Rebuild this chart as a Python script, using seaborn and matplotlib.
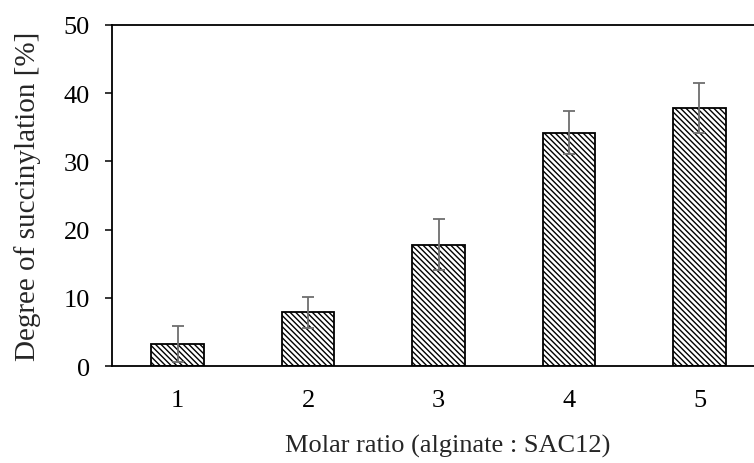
import matplotlib
matplotlib.use("Agg")
import matplotlib.pyplot as plt
import seaborn as sns
import pandas as pd
import numpy as np

categories = ["1", "2", "3", "4", "5"]
values = [3.3, 7.9, 17.8, 34.2, 37.8]
errors = [2.6, 2.3, 3.7, 3.1, 3.6]

sns.set_theme(style="ticks")
plt.rcParams['font.family'] = ['Liberation Serif', 'DejaVu Serif']
plt.rcParams['hatch.linewidth'] = 1.0
plt.rcParams['hatch.color'] = 'black'

df = pd.DataFrame({"ratio": categories, "dos": values})

fig = plt.figure(figsize=(7.54, 4.64), dpi=100)
ax = fig.add_axes([112.3 / 754, 1 - 367.3 / 464, (764.7 - 112.3) / 754, (367.3 - 25.7) / 464])

sns.barplot(data=df, x="ratio", y="dos", ax=ax, width=0.4, color="white",
            edgecolor="black", linewidth=1.3, errorbar=None, zorder=2)
for p in ax.patches:
    p.set_hatch('\\\\\\\\\\\\')
ax.errorbar(x=np.arange(len(categories)), y=values, yerr=errors, fmt='none',
            ecolor='#6e6e6e', elinewidth=1.3, capsize=4.2, capthick=1.3, zorder=3)

FS = 19
ax.set_ylim(0, 50)
ax.set_xlim(-0.5, 4.5)
ax.set_yticks([0, 10, 20, 30, 40, 50])
ax.tick_params(axis='y', direction='out', length=5, width=1.1, labelsize=FS, pad=11, colors='black')
ax.tick_params(axis='x', length=0, labelsize=FS, pad=16, colors='black')
ax.set_ylabel("Degree of succinylation [%]", fontsize=21, labelpad=16)
ax.set_xlabel("Molar ratio (alginate : SAC12)", fontsize=FS, labelpad=18)
ax.xaxis.set_label_coords(0.5146, -0.198)
for s in ['left', 'bottom', 'top']:
    ax.spines[s].set_linewidth(1.3)
    ax.spines[s].set_color('black')
ax.spines['right'].set_visible(False)

fig.savefig("out.png", dpi=100)
